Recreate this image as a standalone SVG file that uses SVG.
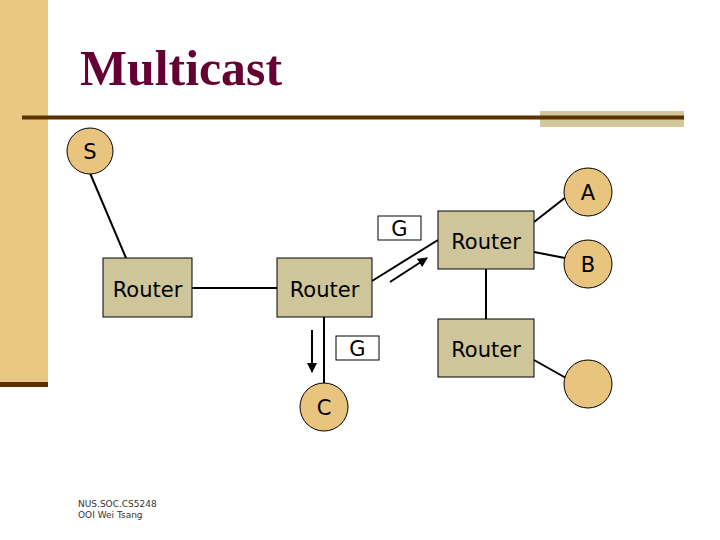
<svg xmlns="http://www.w3.org/2000/svg" width="720" height="540" viewBox="0 0 720 540">
<style>
.router{fill:#CFC59A;stroke:#000;stroke-width:1}
.host{fill:#E8C47F;stroke:#000;stroke-width:1}
.lbl{font-family:"DejaVu Sans","Verdana",sans-serif;font-size:21px;fill:#000;text-anchor:middle}
.gbox{fill:#fff;stroke:#000;stroke-width:1}
.link{stroke:#000;stroke-width:2;fill:none}
.foot{font-family:"DejaVu Sans",sans-serif;font-size:9px;fill:#333}
</style>
<defs>
<marker id="ah" viewBox="0 0 10 10" refX="9" refY="5" markerWidth="5" markerHeight="5" orient="auto">
<path d="M0,0 L10,5 L0,10 z" fill="#000"/>
</marker>
</defs>
<rect width="720" height="540" fill="#fff"/>
<rect x="0" y="0" width="48" height="382" fill="#E8C882"/>
<rect x="0" y="382" width="48" height="5" fill="#5C3300"/>
<rect x="540" y="111" width="144" height="16" fill="#D2C79B"/>
<rect x="22" y="115.5" width="662" height="4" fill="#5C3300"/>
<text x="80" y="85" font-family="Liberation Serif,serif" font-weight="bold" font-size="50" fill="#660033" textLength="202" lengthAdjust="spacingAndGlyphs">Multicast</text>

<g id="connectors">
<line class="link" x1="90" y1="173" x2="126" y2="258"/>
<line class="link" x1="192" y1="288" x2="277" y2="288"/>
<line class="link" x1="372" y1="281" x2="438" y2="240"/>
<line class="link" x1="324" y1="317" x2="324" y2="383"/>
<line class="link" x1="534" y1="222" x2="566" y2="197"/>
<line class="link" x1="534" y1="252" x2="565" y2="258"/>
<line class="link" x1="486" y1="269" x2="486" y2="319"/>
<line class="link" x1="534" y1="360" x2="566" y2="378"/>
<line class="link" x1="390" y1="282" x2="427" y2="258" marker-end="url(#ah)"/>
<line class="link" x1="312" y1="330" x2="312" y2="372" marker-end="url(#ah)"/>
</g>

<g id="S"><circle class="host" cx="90" cy="151" r="23"/><text class="lbl" x="90" y="159">S</text></g>
<g id="A"><circle class="host" cx="588" cy="192" r="24"/><text class="lbl" x="588" y="200">A</text></g>
<g id="B"><circle class="host" cx="588" cy="264" r="24"/><text class="lbl" x="588" y="272">B</text></g>
<g id="D"><circle class="host" cx="588" cy="384" r="24"/></g>
<g id="C"><circle class="host" cx="324" cy="407" r="24"/><text class="lbl" x="324" y="415">C</text></g>

<g id="router1"><rect class="router" x="103" y="258" width="89" height="59"/><text class="lbl" x="147.5" y="297">Router</text></g>
<g id="router2"><rect class="router" x="277" y="258" width="95" height="59"/><text class="lbl" x="324.5" y="297">Router</text></g>
<g id="router3"><rect class="router" x="438" y="211" width="96" height="58"/><text class="lbl" x="486" y="249">Router</text></g>
<g id="router4"><rect class="router" x="438" y="319" width="96" height="58"/><text class="lbl" x="486" y="357">Router</text></g>

<g id="G1"><rect class="gbox" x="378" y="216" width="43" height="24"/><text class="lbl" x="399.5" y="236">G</text></g>
<g id="G2"><rect class="gbox" x="336" y="336" width="43" height="24"/><text class="lbl" x="357.5" y="356">G</text></g>

<text class="foot" x="78" y="507">NUS.SOC.CS5248</text>
<text class="foot" x="78" y="518">OOI Wei Tsang</text>
</svg>
